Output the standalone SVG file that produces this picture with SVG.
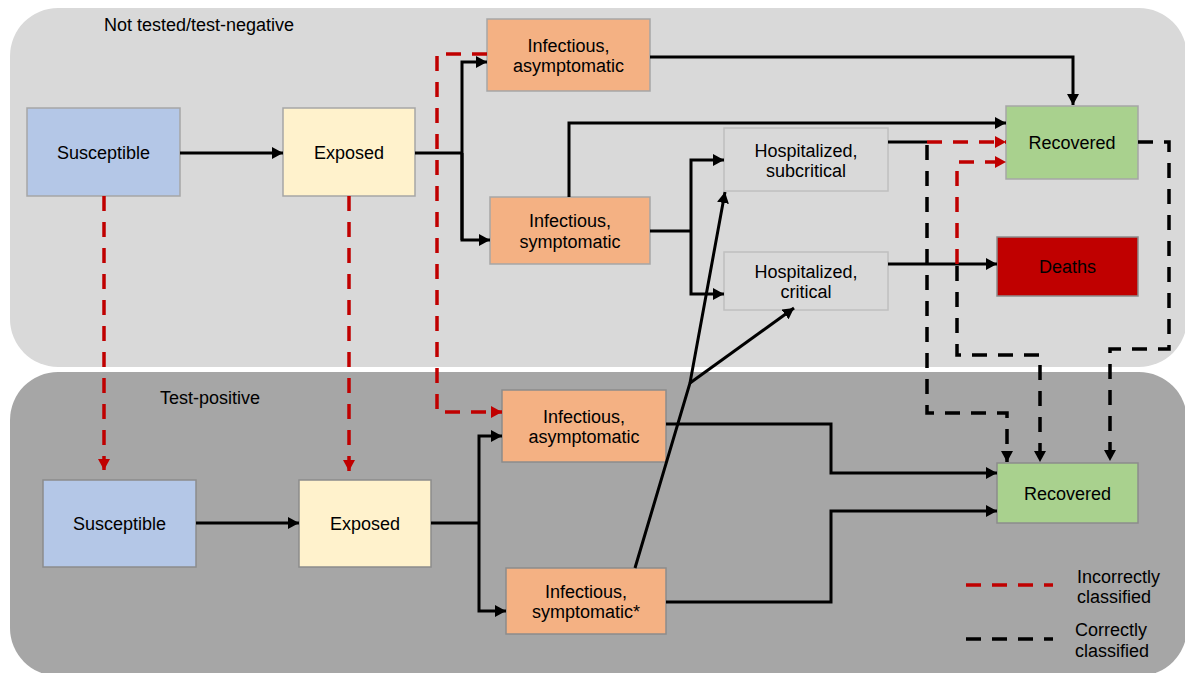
<svg xmlns="http://www.w3.org/2000/svg" width="1185" height="673" viewBox="0 0 1185 673">
<style>
text{font-family:"Liberation Sans",Arial,sans-serif;font-size:18px;fill:#000}
.n text{text-anchor:middle}
.s{fill:none;stroke:#000;stroke-width:3}
.rd{fill:none;stroke:#c00000;stroke-width:3.5;stroke-dasharray:15 11}
.bd{fill:none;stroke:#000;stroke-width:3.5;stroke-dasharray:15 11}
.box{stroke:#a6a6a6;stroke-width:1.5}
.boxd{stroke:#8c8c8c;stroke-width:1.5}
</style>
<defs>
<marker id="ab" markerUnits="userSpaceOnUse" markerWidth="12" markerHeight="12" refX="11" refY="6" orient="auto"><path d="M0,0 L11,6 L0,12 z" fill="#000"/></marker>
<marker id="ar" markerUnits="userSpaceOnUse" markerWidth="12" markerHeight="12" refX="11" refY="6" orient="auto"><path d="M0,0 L11,6 L0,12 z" fill="#c00000"/></marker>
</defs>

<!-- panels -->
<rect x="10" y="8" width="1177" height="359" rx="48" fill="#d9d9d9"/>
<rect x="10" y="372" width="1177" height="304" rx="48" fill="#a6a6a6"/>
<text x="104" y="31">Not tested/test-negative</text>
<text x="160" y="404">Test-positive</text>

<!-- nodes -->
<g id="susceptible-top" class="n"><rect class="box" x="27" y="108" width="153" height="88" fill="#b4c7e7"/><text x="103.5" y="159">Susceptible</text></g>
<g id="exposed-top" class="n"><rect class="box" x="283" y="108" width="132" height="88" fill="#fff2cc"/><text x="349" y="159">Exposed</text></g>
<g id="infectious-asym-top" class="n"><rect class="box" x="487" y="19" width="163" height="72" fill="#f4b183"/><text x="568.5" y="52">Infectious,</text><text x="568.5" y="72">asymptomatic</text></g>
<g id="infectious-sym-top" class="n"><rect class="box" x="490" y="197" width="160" height="67" fill="#f4b183"/><text x="570" y="227">Infectious,</text><text x="570" y="248">symptomatic</text></g>
<g id="hosp-subcritical" class="n"><rect x="724" y="128" width="164" height="63" fill="#d9d9d9" stroke="#bfbfbf" stroke-width="1.5"/><text x="806" y="157">Hospitalized,</text><text x="806" y="177">subcritical</text></g>
<g id="hosp-critical" class="n"><rect x="724" y="252" width="164" height="58" fill="#d9d9d9" stroke="#bfbfbf" stroke-width="1.5"/><text x="806" y="278">Hospitalized,</text><text x="806" y="298">critical</text></g>
<g id="recovered-top" class="n"><rect class="box" x="1006" y="106" width="132" height="73" fill="#a9d18e"/><text x="1072" y="149">Recovered</text></g>
<g id="deaths" class="n"><rect x="997" y="237" width="141" height="59" fill="#c00000" stroke="#8c8c8c" stroke-width="1.5"/><text x="1067.5" y="273">Deaths</text></g>

<g id="susceptible-bottom" class="n"><rect class="boxd" x="43" y="480" width="153" height="87" fill="#b4c7e7"/><text x="119.5" y="530">Susceptible</text></g>
<g id="exposed-bottom" class="n"><rect class="boxd" x="299" y="480" width="132" height="87" fill="#fff2cc"/><text x="365" y="530">Exposed</text></g>
<g id="infectious-asym-bottom" class="n"><rect class="boxd" x="502" y="390" width="164" height="72" fill="#f4b183"/><text x="584" y="423">Infectious,</text><text x="584" y="443">asymptomatic</text></g>
<g id="infectious-sym-bottom" class="n"><rect class="boxd" x="506" y="568" width="160" height="66" fill="#f4b183"/><text x="586" y="598">Infectious,</text><text x="586" y="618">symptomatic*</text></g>
<g id="recovered-bottom" class="n"><rect class="boxd" x="997" y="463" width="141" height="60" fill="#a9d18e"/><text x="1067.5" y="500">Recovered</text></g>

<!-- connectors -->
<g id="connectors">
<path class="s" d="M180,153 H283" marker-end="url(#ab)"/>
<path class="s" d="M415,153 H462"/>
<path class="s" d="M462,240 V62 H487" marker-end="url(#ab)"/>
<path class="s" d="M462,153 V240 H490" marker-end="url(#ab)"/>
<path class="s" d="M650,57 H1073 V105" marker-end="url(#ab)"/>
<path class="s" d="M569,197 V123 H1006" marker-end="url(#ab)"/>
<path class="s" d="M650,231 H691"/>
<path class="s" d="M691,231 V160 H724" marker-end="url(#ab)"/>
<path class="s" d="M691,231 V294 H724" marker-end="url(#ab)"/>
<path class="s" d="M888,142 H927"/>
<path class="rd" d="M927,142 H1006" marker-end="url(#ar)"/>
<path class="s" d="M888,264 H997" marker-end="url(#ab)"/>
<path class="rd" d="M957,264 V162 H1006" marker-end="url(#ar)"/>
<path class="bd" d="M927,145 V413 H1007 V462" marker-end="url(#ab)"/>
<path class="bd" d="M957,266 V355 H1040 V462" marker-end="url(#ab)"/>
<path class="bd" d="M1138,142 H1169 V349 H1110 V461" marker-end="url(#ab)"/>
<path class="rd" d="M104,196 V470" marker-end="url(#ar)"/>
<path class="rd" d="M349,196 V471" marker-end="url(#ar)"/>
<path class="rd" d="M487,54 H437 V412 H502" marker-end="url(#ar)"/>
<path class="s" d="M196,523 H299" marker-end="url(#ab)"/>
<path class="s" d="M431,523 H479"/>
<path class="s" d="M479,523 V436 H502" marker-end="url(#ab)"/>
<path class="s" d="M479,523 V611 H506" marker-end="url(#ab)"/>
<path class="s" d="M666,424 H831 V473 H997" marker-end="url(#ab)"/>
<path class="s" d="M666,602 H831 V511 H997" marker-end="url(#ab)"/>
<path class="s" d="M635,568 L690,383 L725,192" marker-end="url(#ab)"/>
<path class="s" d="M690,383 L794,308" marker-end="url(#ab)"/>
</g>

<!-- legend -->
<g id="legend">
<path class="rd" d="M966,585 H1053"/>
<text x="1077" y="583">Incorrectly</text>
<text x="1077" y="603">classified</text>
<path class="bd" d="M966,639 H1053"/>
<text x="1075" y="636">Correctly</text>
<text x="1075" y="657">classified</text>
</g>
</svg>
